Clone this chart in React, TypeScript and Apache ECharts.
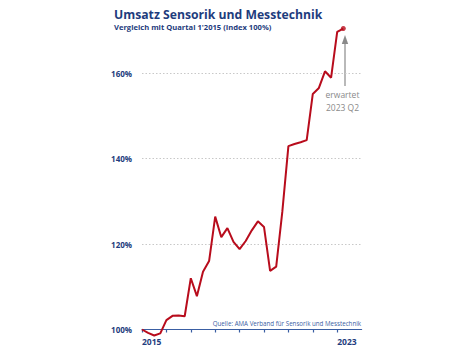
import React, { useEffect, useRef } from "react";
import * as echarts from "echarts";

const title = "Umsatz Sensorik und Messtechnik";
const subtitle = "Vergleich mit Quartal 1'2015 (Index 100%)";
const source = "Quelle: AMA Verband für Sensorik und Messtechnik";
const annotationLines = ["erwartet", "2023 Q2"];

// Quarterly index values, 2015 Q1 .. 2023 Q2
const indexValues = [
  100, 99.2, 98.6, 99.1, 102.2, 103.2, 103.3, 103.1,
  112.0, 107.8, 113.5, 116.0, 126.4, 121.6, 123.7, 120.5,
  118.8, 120.7, 123.2, 125.3, 124.0, 113.7, 114.7, 127.5,
  142.9, 143.4, 143.8, 144.3, 155.1, 156.5, 160.4, 158.9,
  169.6, 170.4,
];
const yearLabels = ["2015", "2016", "2017", "2018", "2019", "2020", "2021", "2022", "2023"];
const shownYears = ["2015", "2023"];
const yTicks = [100, 120, 140, 160];

const BLUE = "#1e3c7d";
const AXIS_BLUE = "#3a5ea3";
const RED = "#b80c1c";
const FONT = "'Open Sans', sans-serif";

export default function App() {
  const ref = useRef<HTMLDivElement>(null);
  useEffect(() => {
    if (!ref.current) return;
    const chart = echarts.init(ref.current, null, { renderer: "svg" });
    const lineData = indexValues.map((v, i) => [i, v]);
    const last = lineData[lineData.length - 1];
    chart.setOption({
      animation: false,
      textStyle: { fontFamily: FONT },
      grid: { left: 142, right: 112.4, top: 73, bottom: 25.5 },
      title: [
        {
          text: title,
          subtext: subtitle,
          left: 109,
          top: 3,
          itemGap: 3,
          textStyle: { fontFamily: FONT, fontSize: 12.2, fontWeight: "bold", color: BLUE },
          subtextStyle: { fontFamily: FONT, fontSize: 7.6, fontWeight: "bold", color: BLUE },
        },
      ],
      xAxis: {
        type: "value",
        min: 0,
        max: yearLabels.length * 4,
        interval: 4,
        axisLine: { show: true, lineStyle: { color: AXIS_BLUE, width: 1.2 } },
        axisTick: { show: true, length: 3, lineStyle: { color: AXIS_BLUE, width: 1.2 } },
        splitLine: { show: false },
        axisLabel: {
          show: true,
          align: "left",
          margin: 7,
          fontFamily: FONT,
          fontSize: 8.5,
          fontWeight: "bold",
          color: BLUE,
          showMaxLabel: false,
          formatter: (v: number) => {
            const y = yearLabels[Math.round(v / 4)];
            return y && shownYears.includes(y) ? y : "";
          },
        },
      },
      yAxis: {
        type: "value",
        min: yTicks[0],
        max: yTicks[yTicks.length - 1],
        interval: 20,
        axisLine: { show: false },
        axisTick: { show: false },
        axisLabel: {
          margin: 10,
          fontFamily: FONT,
          fontSize: 8,
          fontWeight: "bold",
          color: BLUE,
          formatter: (v: number) => `${v}%`,
        },
        splitLine: { show: true, lineStyle: { color: "#c8c8c8", type: [1.5, 2], width: 1 } },
      },
      series: [
        {
          type: "line",
          data: lineData,
          clip: false,
          showSymbol: false,
          lineStyle: { color: RED, width: 2 },
          z: 3,
        },
        {
          type: "scatter",
          data: [last],
          clip: false,
          symbolSize: 5,
          itemStyle: { color: RED },
          z: 4,
        },
      ],
      graphic: [
        {
          type: "text",
          right: 474 - 361,
          top: 320,
          style: { text: source, font: `6.2px ${FONT}`, fill: AXIS_BLUE, textAlign: "right" },
        },
        {
          type: "line",
          shape: { x1: 345, y1: 86, x2: 345, y2: 42 },
          style: { stroke: "#8a8a8a", lineWidth: 1.2 },
        },
        {
          type: "polygon",
          shape: { points: [[345, 35], [341.8, 44], [348.2, 44]] },
          style: { fill: "#8a8a8a" },
        },
        {
          type: "text",
          x: 342.5,
          y: 88,
          style: {
            text: annotationLines.join("\n"),
            font: `8.5px ${FONT}`,
            fill: "#8a8a8a",
            textAlign: "center",
            lineHeight: 13,
          },
        },
      ],
    });
    return () => chart.dispose();
  }, []);
  return (
    <div
      ref={ref}
      style={{ position: "fixed", left: 0, top: 0, width: 474, height: 355, background: "#fff" }}
    />
  );
}
